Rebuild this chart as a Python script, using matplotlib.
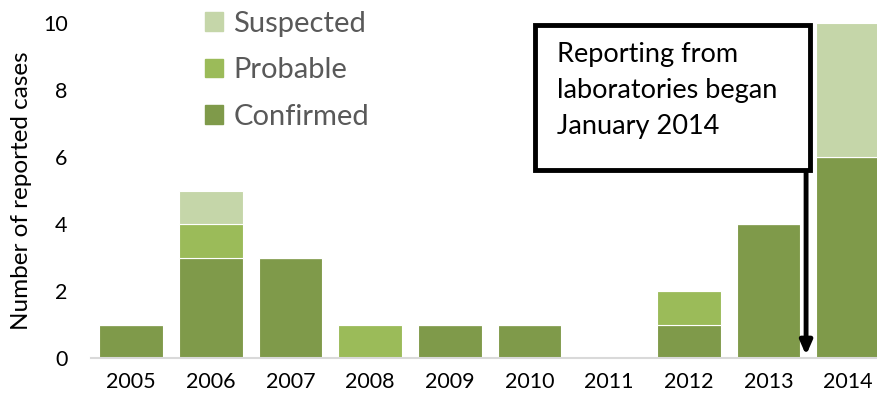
import matplotlib
matplotlib.use("Agg")
import matplotlib.pyplot as plt
from matplotlib.patches import Rectangle, Patch

plt.rcParams['font.family'] = ['Lato', 'DejaVu Sans']

years = ["2005", "2006", "2007", "2008", "2009", "2010", "2011", "2012", "2013", "2014"]
confirmed = [1, 3, 3, 0, 1, 1, 0, 1, 4, 6]
probable = [0, 1, 0, 1, 0, 0, 0, 1, 0, 0]
suspected = [0, 1, 0, 0, 0, 0, 0, 0, 0, 4]
yticks = [0, 2, 4, 6, 8, 10]
note = "Reporting from\nlaboratories began\nJanuary 2014"

c_conf = "#7f9a4a"
c_prob = "#9bbb59"
c_susp = "#c5d6a9"

fig = plt.figure(figsize=(8.77, 4.05), dpi=100)
ax = fig.add_axes([0.104, 0.116, 0.896, 0.827])

x = list(range(len(years)))
w = 0.8
ax.bar(x, confirmed, w, color=c_conf, edgecolor="white", linewidth=0.8, label="Confirmed")
ax.bar(x, probable, w, bottom=confirmed, color=c_prob, edgecolor="white", linewidth=0.8, label="Probable")
bot2 = [a + b for a, b in zip(confirmed, probable)]
ax.bar(x, suspected, w, bottom=bot2, color=c_susp, edgecolor="white", linewidth=0.8, label="Suspected")

ax.set_xlim(-0.5, 9.36)
ax.set_ylim(0, 10)
ax.set_yticks(yticks)
ax.set_xticks(x)
ax.set_xticklabels(years)
ax.tick_params(axis='both', length=0, labelsize=15.5)
ax.tick_params(axis='x', pad=10)
ax.tick_params(axis='y', pad=17)
for s in ["top", "right", "left"]:
    ax.spines[s].set_visible(False)
ax.spines["bottom"].set_color("#d9d9d9")
ax.spines["bottom"].set_linewidth(1.5)
ax.set_ylabel("Number of reported cases", fontsize=17.5, labelpad=8)

handles = [Patch(color=c_susp, label="Suspected"), Patch(color=c_prob, label="Probable"),
           Patch(color=c_conf, label="Confirmed")]
leg = ax.legend(handles=handles, loc="upper left", bbox_to_anchor=(0.112, 1.115), frameon=False,
                fontsize=21, handlelength=0.6, handleheight=0.6, handletextpad=0.35,
                labelspacing=0.7, labelcolor="#595959")

# annotation box
rect = Rectangle((5.07, 5.61), 3.45, 4.33, facecolor="white", edgecolor="black", linewidth=3.5,
                 clip_on=False, zorder=5)
ax.add_patch(rect)
ax.text(5.34, 9.45, note, fontsize=19.5, va="top", ha="left", linespacing=1.55, zorder=6)
ax.annotate("", xy=(8.47, 0.0), xytext=(8.47, 5.61),
            arrowprops=dict(arrowstyle="-|>,head_width=0.35,head_length=0.8", color="black", lw=3.5),
            zorder=6)

fig.savefig("out.png", dpi=100)
